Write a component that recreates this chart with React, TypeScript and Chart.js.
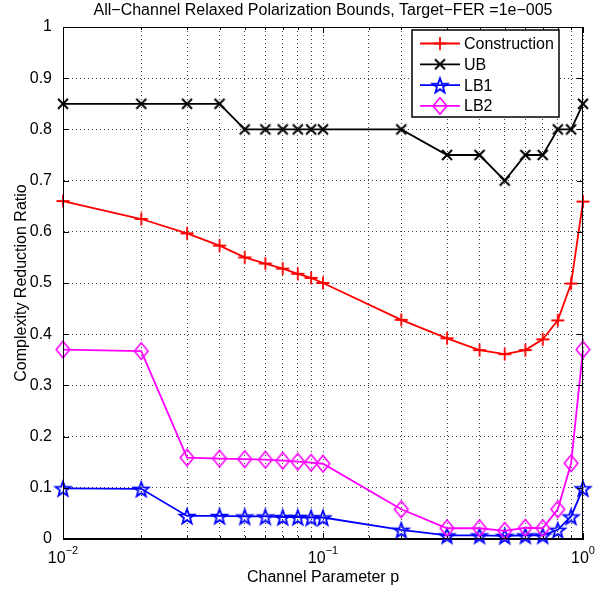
import React, { useEffect, useRef } from 'react';
import { Chart, registerables } from 'chart.js';

Chart.register(...registerables);

const titleText = 'All−Channel Relaxed Polarization Bounds, Target−FER =1e−005';
const xTitle = 'Channel Parameter p';
const yTitle = 'Complexity Reduction Ratio';

const pValues = [0.01, 0.02, 0.03, 0.04, 0.05, 0.06, 0.07, 0.08, 0.09, 0.1, 0.2, 0.3, 0.4, 0.5, 0.6, 0.7, 0.8, 0.9, 1.0];
const construction = [0.66, 0.625, 0.597, 0.573, 0.55, 0.538, 0.528, 0.518, 0.51, 0.5, 0.428, 0.392, 0.369, 0.361, 0.369, 0.39, 0.427, 0.499, 0.659];
const ub = [0.85, 0.85, 0.85, 0.85, 0.8, 0.8, 0.8, 0.8, 0.8, 0.8, 0.8, 0.75, 0.75, 0.7, 0.75, 0.75, 0.8, 0.8, 0.85];
const lb1 = [0.099, 0.098, 0.045, 0.045, 0.044, 0.044, 0.043, 0.043, 0.042, 0.042, 0.018, 0.007, 0.007, 0.006, 0.007, 0.007, 0.018, 0.044, 0.099];
const lb2 = [0.37, 0.367, 0.159, 0.157, 0.156, 0.155, 0.153, 0.151, 0.149, 0.147, 0.058, 0.021, 0.021, 0.016, 0.022, 0.021, 0.058, 0.148, 0.37];

const seriesLabels = ['Construction', 'UB', 'LB1', 'LB2'];
const xMajorTicks = [0.01, 0.1, 1];
const xMajorBases = ['10', '10', '10'];
const xMajorExponents = ['−2', '−1', '0'];

const FONT = "'Liberation Sans', Arial, Helvetica, sans-serif";
const FS = 16;

function makeMarker(kind: string, color: string): HTMLCanvasElement {
  const size = 24;
  const c = document.createElement('canvas');
  c.width = size;
  c.height = size;
  const ctx = c.getContext('2d')!;
  const m = size / 2;
  ctx.strokeStyle = color;
  ctx.lineWidth = 1.8;
  ctx.lineJoin = 'miter';
  ctx.beginPath();
  if (kind === 'plus') {
    const r = 6.5;
    ctx.moveTo(m - r, m); ctx.lineTo(m + r, m);
    ctx.moveTo(m, m - r); ctx.lineTo(m, m + r);
  } else if (kind === 'cross') {
    const r = 5;
    ctx.lineWidth = 2;
    ctx.moveTo(m - r, m - r); ctx.lineTo(m + r, m + r);
    ctx.moveTo(m + r, m - r); ctx.lineTo(m - r, m + r);
  } else if (kind === 'star') {
    const ro = 7.8, ri = 3.2;
    ctx.lineWidth = 1.8;
    for (let i = 0; i < 10; i++) {
      const a = -Math.PI / 2 + (i * Math.PI) / 5;
      const r = i % 2 === 0 ? ro : ri;
      const x = m + r * Math.cos(a), y = m + 1 + r * Math.sin(a);
      if (i === 0) ctx.moveTo(x, y); else ctx.lineTo(x, y);
    }
    ctx.closePath();
  } else if (kind === 'diamond') {
    const hw = 6.8, hh = 8.2;
    ctx.lineWidth = 1.6;
    ctx.moveTo(m, m - hh); ctx.lineTo(m + hw, m); ctx.lineTo(m, m + hh); ctx.lineTo(m - hw, m);
    ctx.closePath();
  }
  ctx.stroke();
  return c;
}

export default function App() {
  const ref = useRef<HTMLCanvasElement | null>(null);

  useEffect(() => {
    document.body.style.margin = '0';
    const canvas = ref.current;
    if (!canvas) return;

    const colors = ['#ff0000', '#000000', '#0000ff', '#ff00ff'];
    const kinds = ['plus', 'cross', 'star', 'diamond'];
    const markers = kinds.map((k, i) => makeMarker(k, colors[i]));
    const values = [construction, ub, lb1, lb2];

    const datasets = values.map((vals, i) => ({
      label: seriesLabels[i],
      data: pValues.map((p, j) => ({ x: p, y: vals[j] })),
      borderColor: colors[i],
      backgroundColor: colors[i],
      borderWidth: 1.8,
      pointStyle: markers[i],
      pointRadius: 5,
      pointHoverRadius: 5,
      tension: 0,
      clip: false as any,
      order: 4 - i,
    }));

    const boxPlugin = {
      id: 'matlabBox',
      afterLayout(chart: any) {
        const tb = chart.titleBlock;
        if (tb) {
          tb.left = chart.chartArea.left;
          tb.right = chart.chartArea.right;
          tb.width = tb.right - tb.left;
        }
      },
      afterDraw(chart: any) {
        const { ctx, chartArea: a } = chart;
        const xs = chart.scales.x;
        const ys = chart.scales.y;
        ctx.save();
        ctx.strokeStyle = '#000';
        ctx.lineWidth = 1;
        ctx.strokeRect(a.left + 0.5, a.top + 0.5, a.right - a.left - 1, a.bottom - a.top - 1);
        ctx.beginPath();
        xs.ticks.forEach((t: any) => {
          const lg = Math.log10(t.value);
          const major = Math.abs(lg - Math.round(lg)) < 1e-9;
          const len = major ? 6 : 3;
          const x = Math.round(xs.getPixelForValue(t.value)) + 0.5;
          ctx.moveTo(x, a.bottom); ctx.lineTo(x, a.bottom - len);
          ctx.moveTo(x, a.top); ctx.lineTo(x, a.top + len);
        });
        ys.ticks.forEach((t: any) => {
          const y = Math.round(ys.getPixelForValue(t.value)) + 0.5;
          ctx.moveTo(a.left, y); ctx.lineTo(a.left + 6, y);
          ctx.moveTo(a.right, y); ctx.lineTo(a.right - 6, y);
        });
        ctx.stroke();

        // x tick labels with superscript exponents
        ctx.fillStyle = '#000';
        ctx.textBaseline = 'alphabetic';
        xMajorTicks.forEach((v, i) => {
          const x = xs.getPixelForValue(v);
          ctx.font = `${FS}px ${FONT}`;
          const bw = ctx.measureText(xMajorBases[i]).width;
          ctx.font = `11px ${FONT}`;
          const ew = ctx.measureText(xMajorExponents[i]).width;
          const start = x - (bw + ew) / 2;
          ctx.font = `${FS}px ${FONT}`;
          ctx.textAlign = 'left';
          ctx.fillText(xMajorBases[i], start, a.bottom + 24);
          ctx.font = `11px ${FONT}`;
          ctx.fillText(xMajorExponents[i], start + bw, a.bottom + 15);
        });

        // legend
        const L = a.right - 171, R = a.right - 24, T = a.top + 3, B = a.top + 90;
        ctx.fillStyle = '#fff';
        ctx.fillRect(L, T, R - L, B - T);
        ctx.strokeStyle = '#000';
        ctx.lineWidth = 1.5;
        ctx.strokeRect(L, T, R - L, B - T);
        ctx.font = `${FS}px ${FONT}`;
        ctx.textBaseline = 'middle';
        ctx.textAlign = 'left';
        chart.data.datasets.forEach((ds: any, i: number) => {
          const y = T + 13.5 + i * 20.8;
          ctx.strokeStyle = ds.borderColor;
          ctx.lineWidth = 1.8;
          ctx.beginPath();
          ctx.moveTo(L + 8, y); ctx.lineTo(L + 48, y);
          ctx.stroke();
          const mk = ds.pointStyle as HTMLCanvasElement;
          ctx.drawImage(mk, L + 28 - mk.width / 2, y - mk.height / 2);
          ctx.fillStyle = '#000';
          ctx.fillText(ds.label, L + 52, y + 1);
        });
        ctx.restore();
      },
    };

    const chart = new Chart(canvas, {
      type: 'line',
      data: { datasets: datasets as any },
      options: {
        animation: false,
        responsive: false,
        events: [],
        layout: { padding: { left: 0, right: 27, top: 0, bottom: 0 } },
        plugins: {
          legend: { display: false },
          tooltip: { enabled: false },
          title: {
            display: true,
            text: titleText,
            color: '#000',
            font: { size: FS, family: FONT, weight: 'normal' as any },
            padding: { top: 1, bottom: 6.8 },
          },
        },
        scales: {
          x: {
            type: 'logarithmic',
            min: 0.01,
            max: 1,
            afterFit(scale: any) { scale.height = 50; },
            ticks: { display: false, autoSkip: false },
            grid: { color: 'rgba(0,0,0,0.75)', lineWidth: 1, drawTicks: false },
            border: { display: true, color: '#000', width: 1, dash: [1, 3] },
            title: {
              display: true,
              text: xTitle,
              color: '#000',
              font: { size: FS, family: FONT },
              padding: { top: 0, bottom: 2 },
            },
          },
          y: {
            type: 'linear',
            min: 0,
            max: 1,
            afterFit(scale: any) { scale.width = 63; },
            ticks: {
              stepSize: 0.1,
              color: '#000',
              padding: 11,
              font: { size: FS, family: FONT },
              callback: (v: any) => String(Number(Number(v).toFixed(1))),
            },
            grid: { color: 'rgba(0,0,0,0.75)', lineWidth: 1, drawTicks: false },
            border: { display: true, color: '#000', width: 1, dash: [1, 3] },
            title: {
              display: true,
              text: yTitle,
              color: '#000',
              font: { size: FS, family: FONT },
              padding: { top: 12, bottom: 0 },
            },
          },
        },
      },
      plugins: [boxPlugin],
    });

    return () => chart.destroy();
  }, []);

  return (
    <div style={{ width: 610, height: 589, background: '#fff' }}>
      <canvas ref={ref} width={610} height={589} />
    </div>
  );
}
